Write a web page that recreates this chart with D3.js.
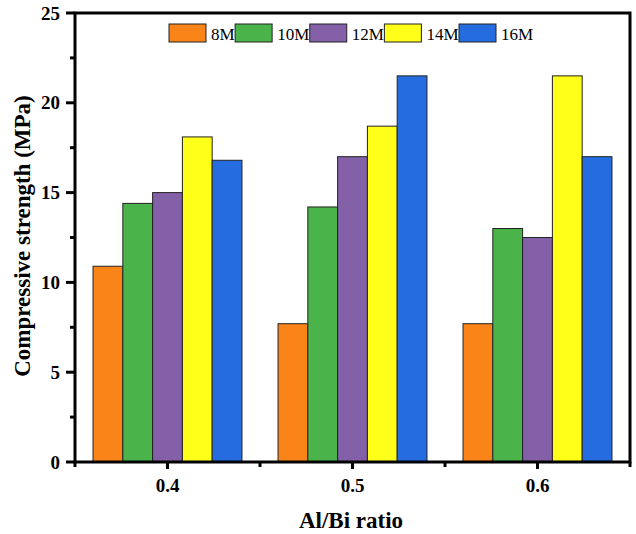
<!DOCTYPE html>
<html><head><meta charset="utf-8">
<script src="https://cdn.jsdelivr.net/npm/d3@7"></script>
<style>body{margin:0;background:#fff}svg{display:block}</style>
</head><body>
<script>
const categories = ["0.4", "0.5", "0.6"];
const seriesNames = ["8M", "10M", "12M", "14M", "16M"];
const s8M  = [10.9, 7.7, 7.7];
const s10M = [14.4, 14.2, 13.0];
const s12M = [15.0, 17.0, 12.5];
const s14M = [18.1, 18.7, 21.5];
const s16M = [16.8, 21.5, 17.0];
const yTicks = [0, 5, 10, 15, 20, 25];
const colors = ["#FB8418", "#4AB34A", "#8460A8", "#FFFF1A", "#246CE0"];

const seriesValues = [s8M, s10M, s12M, s14M, s16M];
const W = 636, H = 534;
const L = 75, R = 630, T = 13, B = 462;
const font = "'Liberation Serif','Times New Roman',serif";

const svg = d3.select("body").append("svg").attr("width", W).attr("height", H);

const x = d3.scaleBand().domain(categories).range([L, R]).paddingInner(0.195).paddingOuter(0.0975);
const xs = d3.scaleBand().domain(seriesNames).range([0, x.bandwidth()]).padding(0);
const y = d3.scaleLinear().domain([0, 25]).range([B, T]);

// bars
const g = svg.append("g");
categories.forEach((c, ci) => {
  seriesNames.forEach((s, si) => {
    g.append("rect")
      .attr("x", x(c) + xs(s))
      .attr("y", y(seriesValues[si][ci]))
      .attr("width", xs.bandwidth())
      .attr("height", y(0) - y(seriesValues[si][ci]))
      .attr("fill", colors[si])
      .attr("stroke", "#222")
      .attr("stroke-width", 1);
  });
});

// frame
const ax = svg.append("g").attr("stroke", "#000").attr("stroke-width", 3).attr("fill", "none");
ax.append("path").attr("d", `M${L},${T}H${R}V${B}H${L}Z`);

// y ticks major
yTicks.forEach(v => {
  ax.append("line").attr("x1", L - 9).attr("x2", L).attr("y1", y(v)).attr("y2", y(v));
  svg.append("text").attr("x", L - 15).attr("y", y(v)).attr("dy", "0.35em")
    .attr("text-anchor", "end").attr("font-family", font).attr("font-weight", "bold")
    .attr("font-size", 19).text(v);
});
// y minor ticks
d3.range(2.5, 25, 5).forEach(v => {
  ax.append("line").attr("x1", L - 5).attr("x2", L).attr("y1", y(v)).attr("y2", y(v));
});

// x ticks
categories.forEach(c => {
  const cx = x(c) + x.bandwidth() / 2;
  ax.append("line").attr("x1", cx).attr("x2", cx).attr("y1", B).attr("y2", B + 7);
  svg.append("text").attr("x", cx).attr("y", B + 30).attr("text-anchor", "middle")
    .attr("font-family", font).attr("font-weight", "bold").attr("font-size", 19).text(c);
});
// minor x ticks at boundaries
const step = x.step();
d3.range(0, categories.length + 1).forEach(i => {
  const bx = L + i * step;
  ax.append("line").attr("x1", bx).attr("x2", bx).attr("y1", B).attr("y2", B + 5);
});

// axis titles
svg.append("text").attr("x", 351).attr("y", 528).attr("text-anchor", "middle")
  .attr("font-family", font).attr("font-weight", "bold").attr("font-size", 23).text("Al/Bi ratio");
svg.append("text").attr("transform", `translate(30,236) rotate(-90)`)
  .attr("text-anchor", "middle").attr("font-family", font).attr("font-weight", "bold")
  .attr("font-size", 23).text("Compressive strength (MPa)");

// legend
let lx = 169;
const leg = svg.append("g");
seriesNames.forEach((s, i) => {
  leg.append("rect").attr("x", lx).attr("y", 24).attr("width", 37).attr("height", 18)
    .attr("fill", colors[i]).attr("stroke", "#222").attr("stroke-width", 1);
  const t = leg.append("text").attr("x", lx + 42).attr("y", 39.5)
    .attr("font-family", font).attr("font-size", 17).text(s);
  lx = lx + 42 + t.node().getComputedTextLength() + 0.5;
});
</script>
</body></html>
